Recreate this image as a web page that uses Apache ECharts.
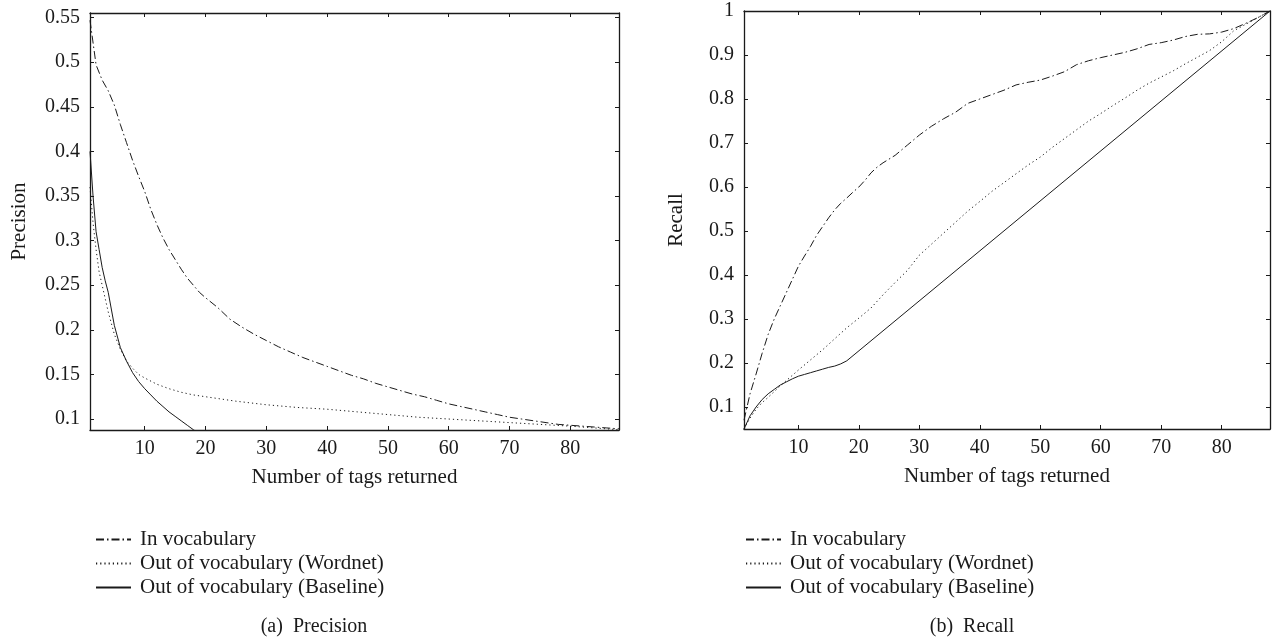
<!DOCTYPE html>
<html>
<head>
<meta charset="utf-8">
<title>Precision / Recall</title>
<script src="https://cdn.jsdelivr.net/npm/echarts@6/dist/echarts.min.js"></script>
<style>
html, body { margin: 0; padding: 0; background: #fff; }
#chart { width: 1272px; height: 638px; }
</style>
</head>
<body>
<div id="chart"></div>
<script>
// tick labels
const xTicks = [10, 20, 30, 40, 50, 60, 70, 80]
const precisionTicks = [0.1, 0.15, 0.2, 0.25, 0.3, 0.35, 0.4, 0.45, 0.5, 0.55]
const recallTicks = [0.1, 0.2, 0.3, 0.4, 0.5, 0.6, 0.7, 0.8, 0.9, 1]

const seriesNames = ['In vocabulary', 'Out of vocabulary (Wordnet)', 'Out of vocabulary (Baseline)']

// (a) precision
const precInVocX = [1, 2, 3, 4, 5, 6, 7, 8, 9, 10, 11, 12, 13, 14, 15, 16, 17, 18, 19, 20, 22, 24, 26, 28, 30, 32, 34, 36, 38, 40, 42, 44, 46, 48, 50, 52, 54, 56, 58, 60, 62, 64, 66, 68, 70, 72, 74, 76, 78, 80, 82, 84, 86, 88]
const precInVocY = [0.547, 0.497, 0.48, 0.468, 0.452, 0.43, 0.41, 0.39, 0.372, 0.355, 0.335, 0.318, 0.303, 0.29, 0.279, 0.268, 0.258, 0.25, 0.242, 0.236, 0.225, 0.212, 0.203, 0.195, 0.188, 0.181, 0.175, 0.169, 0.164, 0.159, 0.154, 0.149, 0.145, 0.14, 0.136, 0.132, 0.128, 0.125, 0.121, 0.117, 0.114, 0.111, 0.108, 0.105, 0.102, 0.1, 0.098, 0.096, 0.094, 0.093, 0.092, 0.091, 0.09, 0.089]

const precWordnetX = [1, 1.5, 2, 2.5, 3, 4, 5, 6, 7, 8, 9, 10, 12, 14, 16, 18, 20, 25, 30, 35, 40, 45, 50, 55, 60, 65, 70, 75, 80, 84, 88]
const precWordnetY = [0.36, 0.32, 0.29, 0.265, 0.25, 0.22, 0.195, 0.178, 0.165, 0.157, 0.15, 0.146, 0.139, 0.134, 0.13, 0.127, 0.125, 0.12, 0.116, 0.113, 0.111, 0.108, 0.105, 0.102, 0.1, 0.098, 0.096, 0.094, 0.092, 0.09, 0.088]

const precBaseX = [1, 1.5, 2, 2.5, 3, 3.5, 4, 5, 6, 7, 8, 9, 10, 11, 12, 13, 14, 15, 16, 17, 18, 19, 20]
const precBaseY = [0.4, 0.35, 0.31, 0.29, 0.27, 0.255, 0.242, 0.205, 0.18, 0.165, 0.152, 0.142, 0.134, 0.127, 0.12, 0.114, 0.108, 0.103, 0.098, 0.093, 0.088, 0.084, 0.08]

// (b) recall
const recInVocX = [1, 2, 3, 4, 5, 6, 7, 8, 9, 10, 11, 12, 13, 14, 15, 16, 17, 18, 19, 20, 21, 22, 23, 24, 26, 28, 30, 32, 34, 36, 38, 40, 42, 44, 46, 48, 50, 52, 54, 56, 58, 60, 62, 64, 66, 68, 70, 72, 74, 76, 78, 80, 82, 84, 86, 88]
const recInVocY = [0.07, 0.13, 0.175, 0.222, 0.265, 0.3, 0.33, 0.36, 0.39, 0.42, 0.443, 0.465, 0.49, 0.51, 0.53, 0.548, 0.563, 0.575, 0.588, 0.6, 0.615, 0.632, 0.645, 0.655, 0.672, 0.695, 0.718, 0.738, 0.755, 0.77, 0.79, 0.8, 0.81, 0.82, 0.832, 0.838, 0.843, 0.852, 0.862, 0.878, 0.887, 0.894, 0.9, 0.906, 0.914, 0.924, 0.928, 0.934, 0.942, 0.947, 0.948, 0.952, 0.96, 0.972, 0.985, 1]

const recWordnetX = [1, 2, 3, 4, 5, 6, 7, 8, 9, 10, 12, 14, 16, 18, 20, 22, 24, 26, 28, 30, 32, 34, 36, 38, 40, 42, 44, 46, 48, 50, 52, 54, 56, 58, 60, 62, 64, 66, 68, 70, 72, 74, 76, 78, 80, 82, 84, 86, 88]
const recWordnetY = [0.05, 0.075, 0.095, 0.11, 0.122, 0.135, 0.148, 0.16, 0.172, 0.184, 0.207, 0.23, 0.255, 0.28, 0.302, 0.325, 0.355, 0.383, 0.41, 0.445, 0.47, 0.495, 0.52, 0.545, 0.567, 0.59, 0.61, 0.63, 0.65, 0.668, 0.69, 0.71, 0.73, 0.75, 0.767, 0.785, 0.802, 0.82, 0.836, 0.85, 0.864, 0.88, 0.895, 0.91, 0.93, 0.955, 0.97, 0.985, 1]

const recBaseX = [1, 2, 3, 4, 5, 6, 7, 8, 9, 10, 11, 12, 13, 14, 15, 16, 17, 18, 88]
const recBaseY = [0.05, 0.08, 0.1, 0.117, 0.13, 0.14, 0.15, 0.157, 0.164, 0.17, 0.174, 0.178, 0.182, 0.186, 0.19, 0.193, 0.198, 0.205, 1]

const FONT = 'Liberation Serif'
const INK = '#1a1a1a'
// 点划线 / 点线 / 实线
const dashTypes = [[8, 3, 1.5, 3], [1.2, 3], 'solid']

const pairs = (xs, ys) => xs.map((x, i) => [x, ys[i]])

const chart = echarts.init(document.getElementById('chart'), null, { renderer: 'canvas' })

// 坐标轴
const makeXAxis = (gridIndex, position, showLabel) => ({
    type: 'value',
    gridIndex,
    position,
    min: 1,
    max: 88,
    name: showLabel ? 'Number of tags returned' : '',
    nameLocation: 'middle',
    nameGap: 37,
    nameTextStyle: { fontFamily: FONT, fontSize: 21, color: INK },
    axisLine: { show: true, onZero: false, lineStyle: { color: INK, width: 1.3 } },
    axisTick: { show: true, inside: true, length: 4, customValues: xTicks, lineStyle: { color: INK } },
    axisLabel: { show: showLabel, customValues: xTicks, margin: 9, fontFamily: FONT, fontSize: 20, color: INK },
    splitLine: { show: false }
})

const makeYAxis = (gridIndex, position, min, max, ticks, name, gap) => ({
    type: 'value',
    gridIndex,
    position,
    min,
    max,
    name: name,
    nameLocation: 'middle',
    nameGap: gap,
    nameTextStyle: { fontFamily: FONT, fontSize: 21, color: INK },
    axisLine: { show: true, onZero: false, lineStyle: { color: INK, width: 1.3 } },
    axisTick: { show: true, inside: true, length: 4, customValues: ticks, lineStyle: { color: INK } },
    axisLabel: { show: name !== '', customValues: ticks, margin: 10, fontFamily: FONT, fontSize: 20, color: INK },
    splitLine: { show: false }
})

const makeSeries = (name, xs, ys, idx, gridIdx) => ({
    name,
    type: 'line',
    xAxisIndex: gridIdx * 2,
    yAxisIndex: gridIdx * 2,
    data: pairs(xs, ys),
    symbol: 'none',
    smooth: false,
    clip: true,
    lineStyle: { color: INK, width: 1, type: dashTypes[idx] },
    itemStyle: { color: INK },
    emphasis: { disabled: true }
})

const makeLegend = (left) => ({
    orient: 'vertical',
    left,
    top: 524,
    itemWidth: 35,
    itemHeight: 12,
    itemGap: 3,
    selectedMode: false,
    data: seriesNames,
    // 只要线，不要圆点
    itemStyle: { opacity: 0 },
    textStyle: { fontFamily: FONT, fontSize: 21, color: INK, padding: [0, 0, 0, 4] }
})

const option = {
    animation: false,
    backgroundColor: '#fff',
    grid: [
        { left: 90, top: 13, width: 529, height: 417 },
        { left: 744, top: 11, width: 526, height: 418 }
    ],
    xAxis: [
        makeXAxis(0, 'bottom', true),
        makeXAxis(0, 'top', false),
        makeXAxis(1, 'bottom', true),
        makeXAxis(1, 'top', false)
    ],
    yAxis: [
        makeYAxis(0, 'left', 0.0877, 0.5552, precisionTicks, 'Precision', 60),
        makeYAxis(0, 'right', 0.0877, 0.5552, precisionTicks, '', 0),
        makeYAxis(1, 'left', 0.05, 1, recallTicks, 'Recall', 57),
        makeYAxis(1, 'right', 0.05, 1, recallTicks, '', 0)
    ],
    legend: [makeLegend(90), makeLegend(740)],
    graphic: [
        { type: 'text', x: 314, y: 627, style: { text: '(a)  Precision', fontFamily: FONT, fontSize: 20, fill: INK, textAlign: 'center', textVerticalAlign: 'middle' } },
        { type: 'text', x: 972, y: 627, style: { text: '(b)  Recall', fontFamily: FONT, fontSize: 20, fill: INK, textAlign: 'center', textVerticalAlign: 'middle' } }
    ],
    series: [
        makeSeries(seriesNames[0], precInVocX, precInVocY, 0, 0),
        makeSeries(seriesNames[1], precWordnetX, precWordnetY, 1, 0),
        makeSeries(seriesNames[2], precBaseX, precBaseY, 2, 0),
        makeSeries(seriesNames[0], recInVocX, recInVocY, 0, 1),
        makeSeries(seriesNames[1], recWordnetX, recWordnetY, 1, 1),
        makeSeries(seriesNames[2], recBaseX, recBaseY, 2, 1)
    ]
}

chart.setOption(option)
</script>
</body>
</html>
